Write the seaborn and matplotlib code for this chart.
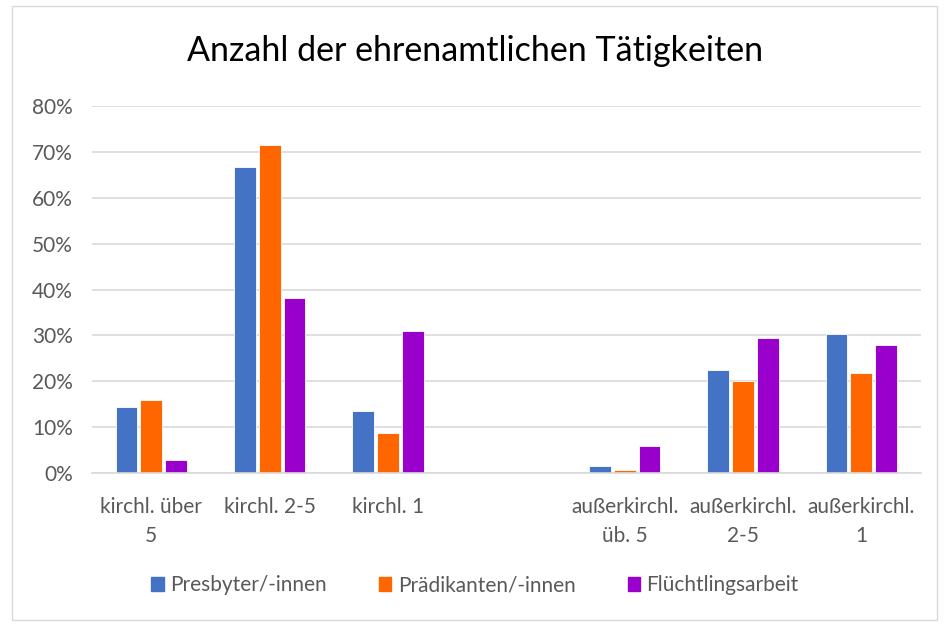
import matplotlib
matplotlib.use("Agg")
import matplotlib.pyplot as plt
import matplotlib.patches as mpatches
import matplotlib.ticker as mtick
import seaborn as sns
import pandas as pd
import numpy as np

# categories (the empty slot is a spacer in the original chart)
categories = ["kirchl. über\n5", "kirchl. 2-5", "kirchl. 1", "",
              "außerkirchl.\nüb. 5", "außerkirchl.\n2-5", "außerkirchl.\n1"]
series = ["Presbyter/-innen", "Prädikanten/-innen", "Flüchtlingsarbeit"]
presbyter = [0.144, 0.667, 0.135, np.nan, 0.015, 0.224, 0.303]
praedikanten = [0.159, 0.715, 0.087, np.nan, 0.006, 0.200, 0.218]
fluechtling = [0.028, 0.381, 0.309, np.nan, 0.059, 0.294, 0.279]
colors = ["#4472C4", "#FF6600", "#9900CC"]

sns.set_theme(style="white")
plt.rcParams["font.family"] = ["Lato", "DejaVu Sans"]

df = pd.DataFrame({
    "Kategorie": categories * 3,
    "Serie": [series[0]] * 7 + [series[1]] * 7 + [series[2]] * 7,
    "Wert": presbyter + praedikanten + fluechtling,
})

fig = plt.figure(figsize=(9.5, 6.24), dpi=100)
ax = fig.add_axes([0.097, 0.242, 0.872, 0.588])

sns.barplot(data=df, x="Kategorie", y="Wert", hue="Serie", order=categories,
            hue_order=series, palette=colors, width=0.63, gap=0.12,
            ax=ax, legend=False, saturation=1, edgecolor="white", linewidth=0.6)

ax.set_ylim(0, 0.8)
ax.set_yticks(np.arange(0, 0.81, 0.1))
ax.yaxis.set_major_formatter(mtick.PercentFormatter(1.0, decimals=0))
ax.grid(axis="y", color="#d9d9d9", linewidth=1.2)
ax.set_axisbelow(True)
for s in ["top", "right", "left"]:
    ax.spines[s].set_visible(False)
ax.spines["bottom"].set_color("#d9d9d9")
ax.spines["bottom"].set_linewidth(1.2)
ax.tick_params(axis="both", length=0, labelsize=15, colors="#595959")
ax.tick_params(axis="y", pad=14)
ax.tick_params(axis="x", pad=17)
for lbl in ax.get_xticklabels():
    lbl.set_linespacing(1.6)
ax.set_xlabel("")
ax.set_ylabel("")

fig.text(0.5, 0.918, "Anzahl der ehrenamtlichen Tätigkeiten", ha="center",
         va="center", fontsize=24.5, color="black")

handles = [mpatches.Patch(color=c, label=l) for c, l in zip(colors, series)]
fig.legend(handles=handles, loc="center", bbox_to_anchor=(0.5, 0.062), ncol=3,
           frameon=False, fontsize=15, handlelength=0.6, handleheight=0.6,
           handletextpad=0.3, columnspacing=2.5, labelcolor="#595959")

border = mpatches.Rectangle((0.013, 0.006), 0.973, 0.985, transform=fig.transFigure,
                            fill=False, edgecolor="#d9d9d9", linewidth=1)
fig.patches.append(border)

fig.savefig("out.png", dpi=100)
